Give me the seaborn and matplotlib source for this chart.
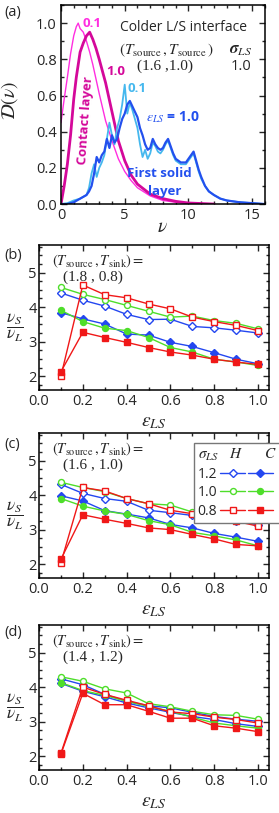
import matplotlib
matplotlib.use("Agg")
import matplotlib.pyplot as plt
import matplotlib.ticker as mticker
from matplotlib.lines import Line2D
import seaborn as sns

sns.set_theme(style="ticks")
plt.rcParams["font.family"] = ["Open Sans", "DejaVu Sans"]
plt.rcParams["mathtext.fontset"] = "stix"

# ── (a) vibrational density of states ─────────────────────────────────────────
nu_contact = [0, 0.25, 0.5, 0.75, 1.0, 1.2, 1.35, 1.5, 1.75, 2.0, 2.25, 2.5,
              2.75, 3.0, 3.5, 4.0, 4.5, 5.0, 5.5, 6.0, 7.0, 8.0, 9.0, 10.0, 12.0]
contact_eps01 = [0.45, 0.58, 0.70, 0.83, 0.93, 0.98, 1.0, 0.97, 0.95, 0.90, 0.84, 0.77,
                 0.69, 0.61, 0.46, 0.35, 0.25, 0.18, 0.13, 0.09, 0.045, 0.02, 0.01, 0.004, 0.0]
contact_eps10 = [0.0, 0.10, 0.22, 0.38, 0.58, 0.70, 0.77, 0.84, 0.89, 0.93, 0.95, 0.91,
                 0.86, 0.80, 0.67, 0.51, 0.35, 0.24, 0.16, 0.11, 0.055, 0.03, 0.015, 0.006, 0.0]

nu_solid = [0, 0.5, 1.0, 1.5, 2.0, 2.2, 2.4, 2.6, 2.8, 3.0, 3.2, 3.4, 3.6, 3.8, 4.0,
            4.2, 4.4, 4.6, 4.8, 5.0, 5.2, 5.4, 5.6, 5.8, 6.0, 6.2, 6.4, 6.6, 6.8, 7.0,
            7.2, 7.4, 7.6, 7.8, 8.0, 8.2, 8.4, 8.6, 8.8, 9.0, 9.2, 9.4, 9.6, 9.8, 10.0,
            10.2, 10.4, 10.6, 10.8, 11.0, 11.3, 11.6, 12.0, 12.5, 13.0, 13.5, 14.0, 15.0, 16.0]
solid_eps01 = [0.0, 0.005, 0.02, 0.03, 0.05, 0.09, 0.17, 0.22, 0.15, 0.20, 0.23, 0.27, 0.36, 0.45, 0.38,
               0.33, 0.42, 0.47, 0.55, 0.66, 0.50, 0.56, 0.52, 0.47, 0.42, 0.33, 0.26, 0.30, 0.25, 0.28,
               0.34, 0.32, 0.29, 0.28, 0.30, 0.33, 0.35, 0.31, 0.27, 0.24, 0.23, 0.22, 0.22, 0.22, 0.24,
               0.26, 0.28, 0.23, 0.18, 0.14, 0.10, 0.07, 0.05, 0.03, 0.02, 0.015, 0.01, 0.005, 0.0]
solid_eps10 = [0.0, 0.0, 0.01, 0.03, 0.05, 0.07, 0.10, 0.17, 0.26, 0.23, 0.27, 0.29, 0.36, 0.31, 0.38,
               0.34, 0.36, 0.42, 0.47, 0.50, 0.55, 0.57, 0.54, 0.51, 0.48, 0.42, 0.38, 0.33, 0.30, 0.31,
               0.36, 0.33, 0.31, 0.30, 0.31, 0.34, 0.36, 0.32, 0.28, 0.25, 0.24, 0.23, 0.23, 0.23, 0.25,
               0.27, 0.29, 0.24, 0.19, 0.15, 0.10, 0.07, 0.05, 0.03, 0.02, 0.015, 0.01, 0.005, 0.0]

# ── (b)-(d) nu_S / nu_L vs eps_LS ─────────────────────────────────────────────
eps = [0.1, 0.2, 0.3, 0.4, 0.5, 0.6, 0.7, 0.8, 0.9, 1.0]

b_h12 = [4.41, 4.20, 4.03, 3.79, 3.64, 3.65, 3.44, 3.40, 3.33, 3.25]
b_c12 = [3.84, 3.66, 3.51, 3.22, 3.19, 2.98, 2.86, 2.68, 2.49, 2.36]
b_h10 = [4.57, 4.37, 4.22, 4.05, 3.88, 3.71, 3.74, 3.61, 3.53, 3.37]
b_c10 = [3.91, 3.58, 3.39, 3.32, 3.12, 2.83, 2.70, 2.49, 2.41, 2.31]
b_h08 = [2.00, 4.64, 4.36, 4.27, 4.09, 3.95, 3.71, 3.58, 3.47, 3.32]
b_c08 = [2.13, 3.27, 3.12, 2.98, 2.83, 2.70, 2.61, 2.49, 2.41, 2.34]

c_h12 = [4.31, 4.05, 3.90, 3.82, 3.56, 3.49, 3.41, 3.31, 3.24, 3.14]
c_c12 = [3.98, 3.83, 3.55, 3.45, 3.34, 3.15, 3.05, 2.89, 2.78, 2.66]
c_h10 = [4.37, 4.22, 4.10, 3.90, 3.75, 3.71, 3.51, 3.36, 3.26, 3.20]
c_c10 = [3.90, 3.68, 3.54, 3.44, 3.26, 3.14, 2.92, 2.82, 2.70, 2.53]
c_h08 = [2.04, 4.22, 4.12, 3.90, 3.75, 3.56, 3.46, 3.36, 3.24, 3.10]
c_c08 = [2.14, 3.43, 3.30, 3.18, 3.05, 3.00, 2.86, 2.73, 2.57, 2.53]

d_h12 = [4.24, 4.07, 3.79, 3.59, 3.46, 3.40, 3.27, 3.15, 3.07, 3.01]
d_c12 = [4.11, 3.88, 3.72, 3.54, 3.40, 3.27, 3.15, 3.06, 2.94, 2.86]
d_h10 = [4.30, 4.17, 3.95, 3.83, 3.52, 3.43, 3.30, 3.20, 3.18, 3.07]
d_c10 = [4.13, 3.90, 3.76, 3.59, 3.44, 3.30, 3.13, 2.96, 2.88, 2.81]
d_h08 = [2.08, 4.00, 3.79, 3.62, 3.46, 3.28, 3.23, 3.13, 3.06, 2.96]
d_c08 = [2.06, 3.82, 3.49, 3.49, 3.30, 3.10, 3.10, 2.88, 2.81, 2.71]

panel_temps = ["(1.8 , 0.8)", "(1.6 , 1.0)", "(1.4 , 1.2)"]
sigma_labels = ["1.2", "1.0", "0.8"]

BLUE = "#2447f0"
GREEN = "#4ede2a"
RED = "#f01818"
MAG = "#ff2ee0"
DMAG = "#d4089a"
LBLUE = "#45b8ee"
SBLUE = "#2350ee"


def style_axis(ax, xmaj, xmin, ymaj, ymin, ypad=3):
    ax.tick_params(which="both", direction="in", top=True, right=True, labelsize=10.5,
                   width=1.0, pad=3)
    ax.tick_params(axis="y", which="both", pad=ypad)
    ax.tick_params(which="major", length=4)
    ax.tick_params(which="minor", length=2.5)
    ax.xaxis.set_major_locator(mticker.MultipleLocator(xmaj))
    ax.xaxis.set_minor_locator(mticker.MultipleLocator(xmin))
    ax.yaxis.set_major_locator(mticker.MultipleLocator(ymaj))
    ax.yaxis.set_minor_locator(mticker.MultipleLocator(ymin))
    for s in ax.spines.values():
        s.set_linewidth(1.1)
        s.set_color("black")


fig = plt.figure(figsize=(2.79, 8.13), dpi=100)

# ── panel (a) ─────────────────────────────────────────────────────────────────
ax = fig.add_axes([0.2186, 0.749, 0.731, 0.2448])
sns.lineplot(x=nu_contact, y=contact_eps01, ax=ax, color=MAG, lw=1.0)
sns.lineplot(x=nu_contact, y=contact_eps10, ax=ax, color=DMAG, lw=2.0)
sns.lineplot(x=nu_solid, y=solid_eps01, ax=ax, color=LBLUE, lw=1.3)
sns.lineplot(x=nu_solid, y=solid_eps10, ax=ax, color=SBLUE, lw=1.6)
ax.set_xlim(0, 16)
ax.set_ylim(0, 1.1)
style_axis(ax, 5, 1, 0.2, 0.1)
ax.yaxis.set_major_formatter(mticker.FormatStrFormatter("%.1f"))
ax.set_xlabel(r"$\nu$", fontsize=14)
ax.xaxis.set_label_coords(0.5, -0.115)
ax.xaxis.label.set_va("center")
ax.set_ylabel(r"$\mathcal{D}(\nu)$", fontsize=14)
ax.yaxis.set_label_coords(-0.2, 0.52)

bold = dict(fontweight="bold", fontsize=9.5)
ax.text(1.65, 1.0, "0.1", color=MAG, ha="left", va="center", **bold)
ax.text(3.55, 0.73, "1.0", color=DMAG, ha="left", va="center", **bold)
ax.text(1.9, 0.46, "Contact layer", color=DMAG, rotation=86, ha="center", va="center", **bold)
ax.text(5.25, 0.64, "0.1", color=LBLUE, ha="left", va="center", **bold)
ax.text(8.8, 0.48, r"$\varepsilon_{LS}$ = 1.0", color=SBLUE, ha="center", va="center",
        fontweight="bold", fontsize=10)
ax.text(7.7, 0.17, "First solid", color=SBLUE, ha="center", va="center", **bold)
ax.text(8.1, 0.07, "layer", color=SBLUE, ha="center", va="center", **bold)
ax.text(0.6, 0.889, "Colder L/S interface", transform=ax.transAxes, ha="center",
        va="center", fontsize=10)
ax.text(0.52, 0.774, r"$(T_{\rm source}\,,T_{\rm source}\,)$", transform=ax.transAxes,
        ha="center", va="center", fontsize=11)
ax.text(0.882, 0.774, r"$\boldsymbol{\sigma}_{LS}$", transform=ax.transAxes,
        ha="center", va="center", fontsize=12)
ax.text(0.51, 0.69, "(1.6 ,1.0)", transform=ax.transAxes, ha="center", va="center",
        fontsize=11, family="Liberation Serif")
ax.text(0.882, 0.69, "1.0", transform=ax.transAxes, ha="center", va="center", fontsize=10.5)
fig.text(0.015, 0.985, "(a)", fontsize=10.5, va="center", ha="left")

# ── panels (b)-(d) ────────────────────────────────────────────────────────────
panels = [
    ((b_h12, b_c12, b_h10, b_c10, b_h08, b_c08), 0.5203, "(b)", 0.686),
    ((c_h12, c_c12, c_h10, c_c10, c_h08, c_c08), 0.2891, "(c)", 0.453),
    ((d_h12, d_c12, d_h10, d_c10, d_h08, d_c08), 0.0529, "(d)", 0.222),
]
series_style = [
    (BLUE, "D", True), (BLUE, "D", False),
    (GREEN, "o", True), (GREEN, "o", False),
    (RED, "s", True), (RED, "s", False),
]

for i, (series, bottom, tag, tag_y) in enumerate(panels):
    ax = fig.add_axes([0.1398, bottom, 0.8244, 0.1784])
    for vals, (col, mk, hollow) in zip(series, series_style):
        sns.lineplot(x=eps, y=vals, ax=ax, color=col, lw=1.0, marker=mk,
                     markersize=4.3 if mk != "D" else 3.8,
                     markerfacecolor="white" if hollow else col,
                     markeredgecolor=col, markeredgewidth=1.0)
    ax.set_xlim(0, 1.05)
    ax.set_ylim(1.6, 5.8)
    style_axis(ax, 0.2, 0.1, 1, 0.25, ypad=1.5)
    ax.xaxis.set_major_formatter(mticker.FormatStrFormatter("%.1f"))
    ax.set_xlabel(r"$\varepsilon_{LS}$", fontsize=14)
    ax.xaxis.set_label_coords(0.5, -0.22)
    ax.xaxis.label.set_va("center")
    ax.set_ylabel(r"$\dfrac{\nu_S}{\nu_L}$", fontsize=12.5, rotation=0, va="center")
    ax.yaxis.set_label_coords(-0.105, 0.43)
    ax.text(0.255, 0.885, r"$(T_{\rm source}\,,T_{\rm sink}) =$", transform=ax.transAxes,
            ha="center", va="center", fontsize=10.5)
    ax.text(0.235, 0.78, panel_temps[i], transform=ax.transAxes, ha="center", va="center",
            fontsize=11, family="Liberation Serif")
    fig.text(0.015, tag_y, tag, fontsize=10.5, va="center", ha="left")

    if tag == "(c)":
        handles = []
        for col, mk, hollow in series_style[0::2]:
            handles.append(Line2D([], [], color=col, lw=1.0, marker=mk, markersize=4.3,
                                  markerfacecolor="white", markeredgecolor=col))
        for col, mk, hollow in series_style[1::2]:
            handles.append(Line2D([], [], color=col, lw=1.0, marker=mk, markersize=4.3,
                                  markerfacecolor=col, markeredgecolor=col))
        leg = ax.legend(handles, sigma_labels + ["", "", ""], ncol=2, markerfirst=False,
                        loc="upper left", bbox_to_anchor=(0.672, 0.93),
                        title=r"$\sigma_{LS}$   $H$      $C$", alignment="left",
                        fontsize=10, title_fontsize=11, frameon=True, fancybox=False,
                        edgecolor="#777777", framealpha=1, handlelength=1.8,
                        handletextpad=0.2, columnspacing=0.0, borderpad=0.3,
                        labelspacing=0.25, borderaxespad=0)
        leg.get_frame().set_linewidth(1.0)
        leg.set_clip_on(False)

fig.savefig("out.png", dpi=100)
